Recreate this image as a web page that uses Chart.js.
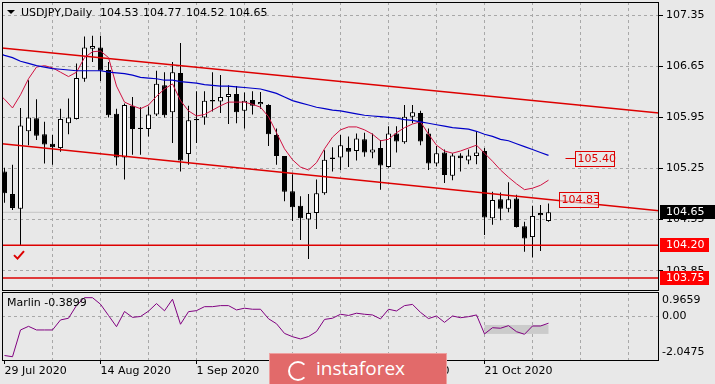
<!doctype html>
<html lang="en">
<head>
<meta charset="utf-8">
<title>USDJPY, Daily</title>
<script src="https://cdn.jsdelivr.net/npm/chart.js@4.4.0/dist/chart.umd.min.js"></script>
<style>
  html, body { margin: 0; padding: 0; background: #e8e8e8; }
  #wrap { position: relative; width: 715px; height: 384px; overflow: hidden; background: #e8e8e8; }
  #priceChart { position: absolute; left: 0; top: 0; }
  #oscChart { position: absolute; left: 0; top: 291px; }
  #logo {
    position: absolute; left: 269px; top: 353px; width: 178px; height: 32px;
    box-sizing: border-box; background: #e26a6a; border: 1px solid #eea0a0;
    color: #fff; font: 19px "Open Sans", sans-serif; line-height: 29px; padding-left: 46px;
  }
  #logo .mark {
    position: absolute; left: 18px; top: 7px; width: 16px; height: 16px;
    border: 2px solid #fff; border-radius: 50%; border-right-color: transparent;
  }
</style>
</head>
<body>
<div id="wrap">
  <canvas id="priceChart" width="715" height="291"></canvas>
  <canvas id="oscChart" width="715" height="93"></canvas>
  <div id="logo"><span class="mark"></span>instaforex</div>
</div>

<script>
// ---- data (USDJPY daily, 29 Jul - 2 Nov 2020) ----
const symbol = 'USDJPY,Daily';

const openP = [105.21, 104.90, 104.70, 105.76, 105.94, 105.72, 105.59, 105.53, 105.87, 105.93,
  106.48, 106.89, 106.91, 106.60, 106.00, 105.40, 106.11, 105.79, 105.79, 105.99,
  106.39, 106.02, 106.56, 105.45, 105.91, 105.95, 106.19, 106.17, 106.23, 106.27,
  106.04, 106.19, 106.13, 106.12, 105.71, 105.42, 104.94, 104.74, 104.55, 104.64,
  104.91, 105.38, 105.40, 105.53, 105.49, 105.65, 105.47, 105.53, 105.27, 105.73,
  105.61, 105.96, 106.01, 105.73, 105.32, 105.47, 105.15, 105.43, 105.36, 105.42,
  105.49, 104.57, 104.83, 104.70, 104.84, 104.46, 104.31, 104.64, 104.53];
const highP = [105.26, 105.30, 106.08, 106.46, 106.20, 105.89, 105.71, 106.07, 106.21, 106.69,
  107.06, 107.07, 107.07, 106.71, 106.07, 106.14, 106.23, 106.09, 106.10, 106.59,
  106.57, 106.71, 106.97, 106.11, 106.31, 106.31, 106.57, 106.53, 106.39, 106.38,
  106.29, 106.31, 106.30, 106.13, 105.80, 105.42, 105.17, 104.87, 104.90, 105.10,
  105.50, 105.54, 105.71, 105.69, 105.73, 105.74, 105.73, 105.64, 105.83, 105.83,
  106.12, 106.12, 106.04, 105.80, 105.56, 105.51, 105.46, 105.46, 105.51, 105.75,
  105.53, 104.93, 104.92, 105.06, 104.89, 104.52, 104.74, 104.75, 104.77];
const lowP = [104.78, 104.68, 104.19, 105.57, 105.64, 105.32, 105.30, 105.48, 105.72, 105.92,
  106.44, 106.71, 106.45, 105.95, 105.29, 105.10, 105.44, 105.44, 105.69, 105.97,
  105.95, 105.60, 105.21, 105.30, 105.60, 105.85, 106.03, 106.01, 105.86, 105.87,
  105.80, 105.99, 106.07, 105.56, 105.30, 104.80, 104.53, 104.27, 104.01, 104.42,
  104.89, 105.21, 105.23, 105.27, 105.36, 105.41, 105.39, 104.96, 105.26, 105.47,
  105.59, 105.87, 105.57, 105.23, 105.28, 105.05, 105.09, 105.21, 105.31, 105.31,
  104.34, 104.48, 104.54, 104.65, 104.44, 104.11, 104.03, 104.12, 104.52];
const closeP = [104.91, 104.71, 105.84, 105.95, 105.70, 105.58, 105.54, 105.93, 105.95, 106.49,
  106.91, 106.93, 106.59, 105.98, 105.40, 106.12, 105.79, 105.81, 105.99, 106.41,
  105.98, 106.57, 105.36, 105.91, 105.93, 106.18, 106.17, 106.23, 106.27, 106.02,
  106.18, 106.11, 106.16, 105.72, 105.42, 104.93, 104.72, 104.57, 104.64, 104.91,
  105.37, 105.40, 105.57, 105.48, 105.66, 105.47, 105.51, 105.29, 105.73, 105.62,
  105.96, 106.02, 105.62, 105.32, 105.46, 105.16, 105.43, 105.39, 105.43, 105.47,
  104.58, 104.82, 104.70, 104.83, 104.45, 104.29, 104.60, 104.61, 104.65];

// moving averages start one bar before the first full candle
const maStart = -1;
const maFast = [106.30, 106.20, 106.08, 106.26, 106.48, 106.64, 106.66, 106.63, 106.57, 106.51,
  106.57, 106.77, 106.85, 106.86, 106.77, 106.38, 106.16, 106.11, 106.07, 106.12,
  106.24, 106.34, 106.41, 106.18, 106.04, 105.97, 105.99, 106.05, 106.11, 106.16,
  106.16, 106.16, 106.13, 106.09, 105.96, 105.74, 105.52, 105.37, 105.27, 105.23,
  105.33, 105.52, 105.68, 105.78, 105.82, 105.82, 105.78, 105.72, 105.63, 105.65,
  105.74, 105.81, 105.86, 105.89, 105.72, 105.57, 105.49, 105.46, 105.49, 105.53,
  105.57, 105.46, 105.35, 105.23, 105.13, 105.04, 104.96, 104.98, 105.02, 105.09];
const maSlow = [106.84, 106.80, 106.77, 106.72, 106.69, 106.66, 106.64, 106.62, 106.61, 106.60,
  106.59, 106.59, 106.59, 106.59, 106.57, 106.56, 106.55, 106.53, 106.50, 106.49,
  106.48, 106.46, 106.46, 106.44, 106.43, 106.42, 106.40, 106.39, 106.38, 106.38,
  106.37, 106.36, 106.35, 106.34, 106.31, 106.28, 106.23, 106.18, 106.15, 106.12,
  106.09, 106.07, 106.05, 106.04, 106.02, 106.00, 105.98, 105.97, 105.96, 105.95,
  105.94, 105.92, 105.91, 105.89, 105.87, 105.85, 105.83, 105.81, 105.80, 105.79,
  105.76, 105.72, 105.69, 105.65, 105.63, 105.59, 105.55, 105.51, 105.47, 105.43];

const marlin = [-2.26, -2.33, -0.78, -0.57, -0.78, -0.78, -0.78, -0.20, -0.10, 0.64,
  1.09, 1.09, 0.71, 0.06, -0.59, 0.29, -0.05, 0.00, 0.31, 0.75,
  0.33, 1.00, -0.45, 0.28, 0.34, 0.57, 0.57, 0.63, 0.63, 0.38,
  0.48, 0.42, 0.42, -0.13, -0.42, -0.98, -1.17, -1.30, -1.16, -0.87,
  -0.17, -0.10, 0.13, 0.06, 0.19, 0.13, 0.09, -0.14, 0.42, 0.32,
  0.63, 0.70, 0.24, -0.12, 0.03, -0.34, 0.03, -0.07, -0.01, 0.09,
  -1.01, -0.65, -0.68, -0.53, -0.88, -1.03, -0.55, -0.55, -0.39];
const marlinText = 'Marlin -0.3899';
const marlinTicks = [0.9659, 0, -2.0475];
const marlinZone = [60, 68, -0.49, -1.01]; // from bar, to bar, top, bottom

const dateLabels = ['29 Jul 2020', '14 Aug 2020', '1 Sep 2020', '17 Sep 2020', '5 Oct 2020', '21 Oct 2020'];
const labelEvery = 12;
const gridEvery = 6;
const priceTicks = [103.85, 104.55, 105.25, 105.95, 106.65, 107.35];

const upperChannel = [106.90, 106.01];
const lowerChannel = [105.59, 104.67];
const levels = [104.20, 103.75];
const targets = [105.40, 104.83];
const lastPrice = closeP[closeP.length - 1];

// ---- axis extents (bar index / price) ----
const xMin = -0.3125, xMax = 81.8125;
const yMin = 103.585, yMax = 107.532;
const oscMin = -2.52, oscMax = 1.419;

Chart.defaults.font.family = '"DejaVu Sans", sans-serif';
Chart.defaults.font.size = 11;
Chart.defaults.color = '#000';

const GRID = '#a8a8a8';
const RED = '#dd0000';

function frame(chart) {
  const {ctx, chartArea: a} = chart;
  ctx.save();
  ctx.strokeStyle = '#000';
  ctx.lineWidth = 1;
  ctx.strokeRect(a.left + 0.5, a.top + 0.5, a.right - a.left - 1, a.bottom - a.top);
  ctx.restore();
}

// keep chart.js from reserving label overflow space
function noMargins(s) {
  s.paddingTop = 0; s.paddingBottom = 0; s.paddingLeft = 0; s.paddingRight = 0;
}

const priceDecor = {
  id: 'priceDecor',
  afterDraw(chart) {
    const {ctx, chartArea: a, scales: {x, y}} = chart;
    frame(chart);
    ctx.save();
    ctx.font = '11px "DejaVu Sans"';
    ctx.textBaseline = 'middle';

    // title
    ctx.fillStyle = '#000';
    ctx.beginPath();
    ctx.moveTo(7, 10); ctx.lineTo(15, 10); ctx.lineTo(11, 14); ctx.closePath(); ctx.fill();
    ctx.fillText(symbol, 21, 13);
    const last = openP.length - 1;
    [openP[last], highP[last], lowP[last], closeP[last]].forEach((v, k) => {
      ctx.fillText(v.toFixed(2), 100 + k * 43, 13);
    });

    // target boxes
    const boxAt = [71.3, 69.3];
    targets.forEach((v, k) => {
      const bx = Math.round(x.getPixelForValue(boxAt[k])) + 0.5;
      const by = Math.round(y.getPixelForValue(v)) + 0.5;
      ctx.strokeStyle = RED; ctx.lineWidth = 1;
      ctx.fillStyle = 'rgba(232,232,232,0.6)';
      ctx.fillRect(bx, by - 7, 39, 15);
      ctx.strokeRect(bx, by - 7, 39, 15);
      if (k === 0) {
        ctx.beginPath(); ctx.moveTo(bx - 10, by); ctx.lineTo(bx, by); ctx.stroke();
      }
      ctx.fillStyle = RED;
      ctx.fillText(v.toFixed(2), bx + 2, by + 1);
    });

    // check mark at the July low
    const cx = x.getPixelForValue(2), cy = y.getPixelForValue(levels[0]);
    ctx.strokeStyle = RED; ctx.lineWidth = 2;
    ctx.beginPath();
    ctx.moveTo(cx - 6.5, cy + 10); ctx.lineTo(cx - 3, cy + 13.5); ctx.lineTo(cx + 3.5, cy + 6);
    ctx.stroke();

    // price tags on the right scale
    const tag = (v, bg, w) => {
      const ty = Math.round(y.getPixelForValue(v));
      ctx.fillStyle = bg;
      ctx.fillRect(a.right + 1, ty - 7, w, 14);
      ctx.fillStyle = '#fff';
      ctx.fillText(v.toFixed(2), a.right + 7, ty);
    };
    tag(lastPrice, '#000', 56);
    levels.forEach(v => tag(v, '#ff0000', 49));
    ctx.restore();
  }
};

const oscDecor = {
  id: 'oscDecor',
  beforeDatasetsDraw(chart) {
    const {ctx, scales: {x, y}} = chart;
    const x0 = x.getPixelForValue(marlinZone[0]), x1 = x.getPixelForValue(marlinZone[1]);
    const y0 = y.getPixelForValue(marlinZone[2]), y1 = y.getPixelForValue(marlinZone[3]);
    ctx.save();
    ctx.fillStyle = '#cbcbcb';
    ctx.fillRect(x0, y0, x1 - x0, y1 - y0);
    ctx.restore();
  },
  afterDraw(chart) {
    const {ctx} = chart;
    frame(chart);
    ctx.save();
    ctx.font = '11px "DejaVu Sans"';
    ctx.textBaseline = 'middle';
    ctx.fillStyle = '#000';
    ctx.fillText(marlinText, 7, 12);
    ctx.restore();
  }
};

function xScale(showLabels) {
  return {
    type: 'linear', min: xMin, max: xMax, offset: false,
    afterBuildTicks: s => {
      const t = [];
      for (let v = 0; v <= xMax; v += gridEvery) t.push({value: v});
      s.ticks = t;
    },
    afterFit: s => { s.height = showLabels ? 24 : 0; noMargins(s); },
    border: {display: false, dash: [3, 3]},
    grid: {
      offset: false,
      color: c => (c.tick && c.tick.value > 0) ? GRID : 'transparent',
      drawTicks: showLabels, tickLength: 4,
      tickColor: c => (c.tick && c.tick.value % labelEvery === 0 && c.tick.value / labelEvery < dateLabels.length) ? '#000' : 'transparent'
    },
    ticks: {
      display: showLabels, autoSkip: false, maxRotation: 0, align: 'start', padding: 1,
      callback: v => (v % labelEvery === 0 && v / labelEvery < dateLabels.length) ? dateLabels[v / labelEvery] : ''
    }
  };
}

// ---- price chart ----
const wicks = lowP.map((lo, i) => ({x: i, y: [lo, highP[i]]}));
const bodies = openP.map((o, i) => ({x: i, y: [o, closeP[i]]}));
const bodyFill = openP.map((o, i) => closeP[i] >= o ? '#ffffff' : '#000000');
const span = (a, b) => [{x: xMin, y: a}, {x: xMax, y: b}];
const lineStyle = (color, w) => ({type: 'line', borderColor: color, borderWidth: w, pointRadius: 0, tension: 0, fill: false});

new Chart(document.getElementById('priceChart'), {
  type: 'bar',
  data: {
    datasets: [
      Object.assign(lineStyle('#0000c8', 1.2), {data: maSlow.map((v, k) => ({x: k + maStart, y: v})), order: 0}),
      Object.assign(lineStyle('#d01040', 1), {data: maFast.map((v, k) => ({x: k + maStart, y: v})), order: 0}),
      Object.assign(lineStyle(RED, 1.5), {data: span(upperChannel[0], upperChannel[1]), order: 0}),
      Object.assign(lineStyle(RED, 1.5), {data: span(lowerChannel[0], lowerChannel[1]), order: 0}),
      Object.assign(lineStyle(RED, 1.5), {data: span(levels[0], levels[0]), order: 0}),
      Object.assign(lineStyle(RED, 1.5), {data: span(levels[1], levels[1]), order: 0}),
      {type: 'bar', data: bodies, backgroundColor: bodyFill, borderColor: '#000', borderWidth: 1,
        borderSkipped: false, barThickness: 5, grouped: false, inflateAmount: 0, order: 1},
      {type: 'bar', data: wicks, backgroundColor: '#000', borderWidth: 0,
        barThickness: 1, grouped: false, inflateAmount: 0, order: 2},
      Object.assign(lineStyle('#c4c4c4', 1), {data: span(lastPrice, lastPrice), order: 3})
    ]
  },
  options: {
    responsive: false, animation: false, devicePixelRatio: 1, events: [],
    layout: {padding: {left: 2, top: 2, right: 0, bottom: 1}},
    plugins: {legend: {display: false}, tooltip: {enabled: false}},
    scales: {
      x: xScale(false),
      y: {
        type: 'linear', position: 'right', min: yMin, max: yMax,
        afterBuildTicks: s => { s.ticks = priceTicks.map(v => ({value: v})); },
        afterFit: s => { s.width = 56; noMargins(s); },
        border: {display: false, dash: [3, 3]},
        grid: {color: GRID, drawTicks: true, tickLength: 4, tickColor: '#000'},
        ticks: {padding: 3, callback: v => v.toFixed(2)}
      }
    }
  },
  plugins: [priceDecor]
});

// ---- Marlin oscillator ----
new Chart(document.getElementById('oscChart'), {
  type: 'line',
  data: {
    datasets: [Object.assign(lineStyle('#800080', 1), {data: marlin.map((v, i) => ({x: i, y: v}))})]
  },
  options: {
    responsive: false, animation: false, devicePixelRatio: 1, events: [],
    layout: {padding: {left: 2, top: 1, right: 0, bottom: 0}},
    plugins: {legend: {display: false}, tooltip: {enabled: false}},
    scales: {
      x: xScale(true),
      y: {
        type: 'linear', position: 'right', min: oscMin, max: oscMax,
        afterBuildTicks: s => { s.ticks = marlinTicks.map(v => ({value: v})); },
        afterFit: s => { s.width = 56; noMargins(s); },
        border: {display: false, dash: [3, 3]},
        grid: {color: c => (c.tick && c.tick.value === 0) ? GRID : 'transparent', drawTicks: false},
        ticks: {padding: 3, callback: v => v === 0 ? '0.00' : v.toFixed(4)}
      }
    }
  },
  plugins: [oscDecor]
});
</script>
</body>
</html>
